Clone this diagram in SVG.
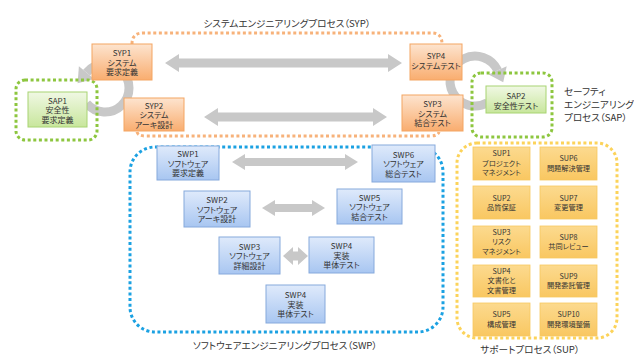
<svg xmlns="http://www.w3.org/2000/svg" width="634" height="356" viewBox="0 0 634 356">
<defs>
<linearGradient id="gO" x1="0" y1="0" x2="0" y2="1"><stop offset="0" stop-color="#fde4cf"/><stop offset="1" stop-color="#f9ad6f"/></linearGradient>
<linearGradient id="gG" x1="0" y1="0" x2="0" y2="1"><stop offset="0" stop-color="#f0f8e4"/><stop offset="1" stop-color="#c8e69c"/></linearGradient>
<linearGradient id="gB" x1="0" y1="0" x2="0" y2="1"><stop offset="0" stop-color="#dfeafb"/><stop offset="1" stop-color="#a8c6f1"/></linearGradient>
<linearGradient id="gY" x1="0" y1="0" x2="0" y2="1"><stop offset="0" stop-color="#fcda8f"/><stop offset="1" stop-color="#f9c761"/></linearGradient>
<style>
.t{font-family:"Noto Sans CJK JP","Noto Sans",sans-serif;font-size:8px;fill:#333;text-anchor:middle;font-feature-settings:"palt"}
.s{font-family:"Noto Sans CJK JP","Noto Sans",sans-serif;font-size:7.2px;fill:#333;text-anchor:middle;font-feature-settings:"palt"}
.ttl{font-family:"Noto Sans CJK JP","Noto Sans",sans-serif;font-size:9.6px;fill:#333;font-feature-settings:"palt"}
.o{fill:url(#gO);stroke:#f4a562;stroke-width:1}
.g{fill:url(#gG);stroke:#a8d472;stroke-width:1}
.b{fill:url(#gB);stroke:#86a9dc;stroke-width:1}
.y{fill:url(#gY);stroke:#f7c860;stroke-width:0.8}
.dot{fill:none;stroke-width:3;stroke-dasharray:3 2.6}
.arr{fill:#c8c8c8}
.arc{fill:none;stroke:#c8c8c8;stroke-width:9}
</style>
</defs>

<g id="boundary-syp">
<path class="dot" stroke="#f7b27a" d="M132,44 Q132,33 143,33 L432,33 Q442,33 442,44"/>
<path class="dot" stroke="#f7b27a" d="M137,132 Q138,136 146,136 L430,136 Q438,136 439,132"/>
</g>
<g id="boundary-swp"><rect class="dot" stroke="#1ba1e2" x="130" y="147" width="313" height="185" rx="25"/></g>
<g id="boundary-sup"><rect class="dot" stroke="#fcd35a" x="457" y="143" width="160" height="195" rx="20"/></g>

<g id="connectors">
<polygon class="arr" points="165,63 179,54 179,58.5 388,58.5 388,54 402,63 388,72 388,67.5 179,67.5 179,72"/>
<polygon class="arr" points="204,117 218,108 218,112.5 373,112.5 373,108 387,117 373,126 373,121.5 218,121.5 218,126"/>
<polygon class="arr" points="232,162 245,154 245,158 345,158 345,154 358,162 345,170 345,166 245,166 245,170"/>
<polygon class="arr" points="262,208 275,200 275,204 312,204 312,200 325,208 312,216 312,212 275,212 275,216"/>
<polygon class="arr" points="283,256 293,247 293,251.5 298,251.5 298,247 308,256 298,265 298,260.5 293,260.5 293,265"/>
<path class="arc" d="M86.6,103.4 A24,24 0 1 0 86.6,72.6"/>
<polygon class="arr" points="94.3,79 78.9,66.2 77.6,83.3"/>
<path class="arc" d="M487.5,102.7 A25,25 0 1 1 497.7,70.4"/>
<polygon class="arr" points="506.7,66.2 488.6,74.6 503.2,82.2"/>
</g>

<g id="boundary-sap">
<rect class="dot" stroke="#8dc63f" x="16" y="80" width="81" height="60" rx="9"/>
<rect class="dot" stroke="#8dc63f" x="472" y="73" width="80" height="64" rx="9"/>
</g>

<g id="title-syp"><text class="ttl" x="287" y="26.5" text-anchor="middle">システムエンジニアリングプロセス（SYP）</text></g>
<g id="title-sap"><text class="ttl" x="564" y="94.5">セーフティ</text><text class="ttl" x="564" y="107.5">エンジニアリング</text><text class="ttl" x="564" y="120.5">プロセス（SAP）</text></g>
<g id="title-swp"><text class="ttl" x="285" y="348.5" text-anchor="middle">ソフトウェアエンジニアリングプロセス（SWP）</text></g>
<g id="title-sup"><text class="ttl" x="530" y="352.5" text-anchor="middle">サポートプロセス（SUP）</text></g>

<g id="SYP1"><rect class="o" x="92" y="44" width="60" height="36"/><text class="t" x="122" y="56"><tspan x="122">SYP1</tspan><tspan x="122" dy="9.5">システム</tspan><tspan x="122" dy="9.5">要求定義</tspan></text></g>
<g id="SYP2"><rect class="o" x="124" y="98" width="60" height="33"/><text class="t" x="154" y="108.5"><tspan x="154">SYP2</tspan><tspan x="154" dy="9.5">システム</tspan><tspan x="154" dy="9.5">アーキ設計</tspan></text></g>
<g id="SYP3"><rect class="o" x="402" y="95" width="61" height="36"/><text class="t" x="432.5" y="107"><tspan x="432.5">SYP3</tspan><tspan x="432.5" dy="9.5">システム</tspan><tspan x="432.5" dy="9.5">結合テスト</tspan></text></g>
<g id="SYP4"><rect class="o" x="410" y="44" width="52" height="36"/><text class="t" x="436" y="59"><tspan x="436">SYP4</tspan><tspan x="436" dy="9.5">システムテスト</tspan></text></g>
<g id="SAP1"><rect class="g" x="28" y="92" width="59" height="35"/><text class="t" x="57.5" y="103.5"><tspan x="57.5">SAP1</tspan><tspan x="57.5" dy="9.5">安全性</tspan><tspan x="57.5" dy="9.5">要求定義</tspan></text></g>
<g id="SAP2"><rect class="g" x="486" y="86" width="60" height="27"/><text class="t" x="516" y="99"><tspan x="516">SAP2</tspan><tspan x="516" dy="9.5">安全性テスト</tspan></text></g>

<g id="SWP1"><rect class="b" x="157" y="146" width="62" height="34"/><text class="t" x="188" y="157"><tspan x="188">SWP1</tspan><tspan x="188" dy="9.5">ソフトウェア</tspan><tspan x="188" dy="9.5">要求定義</tspan></text></g>
<g id="SWP6"><rect class="b" x="372" y="145" width="63" height="37"/><text class="t" x="403.5" y="157.5"><tspan x="403.5">SWP6</tspan><tspan x="403.5" dy="9.5">ソフトウェア</tspan><tspan x="403.5" dy="9.5">総合テスト</tspan></text></g>
<g id="SWP2"><rect class="b" x="184" y="191" width="66" height="36"/><text class="t" x="217" y="203"><tspan x="217">SWP2</tspan><tspan x="217" dy="9.5">ソフトウェア</tspan><tspan x="217" dy="9.5">アーキ設計</tspan></text></g>
<g id="SWP5"><rect class="b" x="337" y="189" width="65" height="35"/><text class="t" x="369.5" y="200.5"><tspan x="369.5">SWP5</tspan><tspan x="369.5" dy="9.5">ソフトウェア</tspan><tspan x="369.5" dy="9.5">結合テスト</tspan></text></g>
<g id="SWP3"><rect class="b" x="219" y="237" width="61" height="37"/><text class="t" x="249.5" y="249.5"><tspan x="249.5">SWP3</tspan><tspan x="249.5" dy="9.5">ソフトウェア</tspan><tspan x="249.5" dy="9.5">詳細設計</tspan></text></g>
<g id="SWP4a"><rect class="b" x="309" y="237" width="65" height="36"/><text class="t" x="341.5" y="249"><tspan x="341.5">SWP4</tspan><tspan x="341.5" dy="9.5">実装</tspan><tspan x="341.5" dy="9.5">単体テスト</tspan></text></g>
<g id="SWP4b"><rect class="b" x="266" y="285" width="59" height="38"/><text class="t" x="295.5" y="298"><tspan x="295.5">SWP4</tspan><tspan x="295.5" dy="9.5">実装</tspan><tspan x="295.5" dy="9.5">単体テスト</tspan></text></g>

<g id="SUP1"><rect class="y" x="473" y="147" width="57" height="33"/><text class="s" x="501.5" y="156"><tspan x="501.5">SUP1</tspan><tspan x="501.5" dy="9.5">プロジェクト</tspan><tspan x="501.5" dy="9.5">マネジメント</tspan></text></g>
<g id="SUP2"><rect class="y" x="473" y="186" width="57" height="33"/><text class="s" x="501.5" y="200.5"><tspan x="501.5">SUP2</tspan><tspan x="501.5" dy="9.5">品質保証</tspan></text></g>
<g id="SUP3"><rect class="y" x="473" y="226" width="57" height="32"/><text class="s" x="501.5" y="234.5"><tspan x="501.5">SUP3</tspan><tspan x="501.5" dy="9.5">リスク</tspan><tspan x="501.5" dy="9.5">マネジメント</tspan></text></g>
<g id="SUP4"><rect class="y" x="473" y="265" width="57" height="32"/><text class="s" x="501.5" y="273.5"><tspan x="501.5">SUP4</tspan><tspan x="501.5" dy="9.5">文書化と</tspan><tspan x="501.5" dy="9.5">文書管理</tspan></text></g>
<g id="SUP5"><rect class="y" x="473" y="303" width="57" height="33"/><text class="s" x="501.5" y="317"><tspan x="501.5">SUP5</tspan><tspan x="501.5" dy="9.5">構成管理</tspan></text></g>
<g id="SUP6"><rect class="y" x="540" y="147" width="57" height="33"/><text class="s" x="568.5" y="161"><tspan x="568.5">SUP6</tspan><tspan x="568.5" dy="9.5">問題解決管理</tspan></text></g>
<g id="SUP7"><rect class="y" x="540" y="186" width="57" height="33"/><text class="s" x="568.5" y="200.5"><tspan x="568.5">SUP7</tspan><tspan x="568.5" dy="9.5">変更管理</tspan></text></g>
<g id="SUP8"><rect class="y" x="540" y="226" width="57" height="32"/><text class="s" x="568.5" y="239.5"><tspan x="568.5">SUP8</tspan><tspan x="568.5" dy="9.5">共同レビュー</tspan></text></g>
<g id="SUP9"><rect class="y" x="540" y="265" width="57" height="32"/><text class="s" x="568.5" y="278.5"><tspan x="568.5">SUP9</tspan><tspan x="568.5" dy="9.5">開発委託管理</tspan></text></g>
<g id="SUP10"><rect class="y" x="540" y="303" width="57" height="33"/><text class="s" x="568.5" y="317"><tspan x="568.5">SUP10</tspan><tspan x="568.5" dy="9.5">開発環境整備</tspan></text></g>
</svg>
